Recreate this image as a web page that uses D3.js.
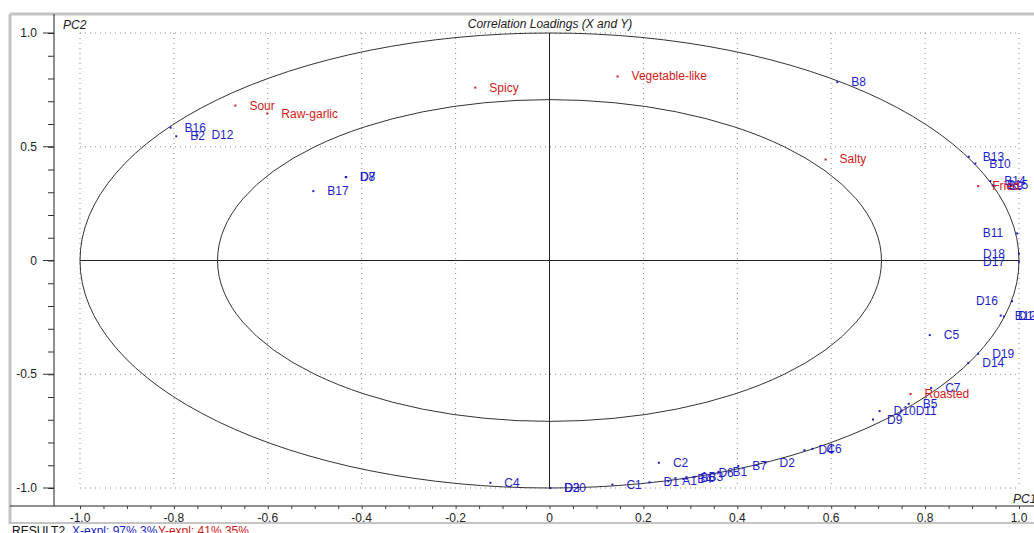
<!DOCTYPE html>
<html>
<head>
<meta charset="utf-8">
<script src="https://cdn.jsdelivr.net/npm/d3@7"></script>
<style>
  body { margin: 0; background: #fff; }
  text { font-family: Arial, "Liberation Sans", sans-serif; }
</style>
</head>
<body>
<div id="chart"></div>
<script>
// X variables (blue)
const xNames = ['B16','B2','D12','D8','D7','B17','B8','B13','B10','B14','B15','B9','B11','D18','D17','D16','B12','D15','C5','D19','D14','C7','B5','D11','D10','D9','D4','C6','D2','B7','B1','D6','B3','B6','B4','A1','D1','C2','C1','D20','D3','C4'];
const xPC1 = [-0.807,-0.795,-0.750,-0.434,-0.433,-0.503,0.613,0.893,0.907,0.939,0.944,0.948,0.996,1.000,1.000,0.985,0.961,0.968,0.810,0.913,0.892,0.813,0.765,0.750,0.703,0.689,0.543,0.560,0.460,0.402,0.360,0.330,0.309,0.292,0.285,0.253,0.213,0.233,0.134,0.001,0.002,-0.126];
const xPC2 = [0.584,0.546,0.550,0.366,0.367,0.305,0.784,0.456,0.426,0.349,0.330,0.328,0.119,0.030,-0.005,-0.179,-0.242,-0.246,-0.328,-0.410,-0.450,-0.560,-0.630,-0.660,-0.662,-0.699,-0.834,-0.828,-0.888,-0.903,-0.929,-0.934,-0.951,-0.958,-0.960,-0.970,-0.975,-0.889,-0.985,-1.000,-1.000,-0.977];

// Y variables (red)
const yNames = ['Sour','Raw-garlic','Spicy','Vegetable-like','Salty','Fried','Roasted'];
const yPC1 = [-0.669,-0.601,-0.158,0.145,0.588,0.913,0.769];
const yPC2 = [0.681,0.646,0.760,0.809,0.444,0.327,-0.587];

const xTicks = [-1.0,-0.8,-0.6,-0.4,-0.2,0,0.2,0.4,0.6,0.8,1.0];
const yTicks = [-1.0,-0.5,0,0.5,1.0];

const width = 1034, height = 533;
const blue = '#1f1fc8', red = '#d11a1a';
const fs = 12;

const x = d3.scaleLinear().domain([-1, 1]).range([80, 1019]);
const y = d3.scaleLinear().domain([-1, 1]).range([488, 33]);
const axisX = 54, axisY = 506;
const fmt = d => d === 0 ? '0' : d3.format('.1f')(d).replace('\u2212', '-');

const svg = d3.select('#chart').append('svg')
  .attr('width', width).attr('height', height);

// window frame
svg.append('line').attr('x1', 10).attr('x2', width).attr('y1', 14).attr('y2', 14)
  .attr('stroke', '#c4c4c4').attr('stroke-width', 3);
svg.append('line').attr('x1', 10).attr('x2', 10).attr('y1', 14).attr('y2', 524)
  .attr('stroke', '#c4c4c4').attr('stroke-width', 3);
svg.append('line').attr('x1', 10).attr('x2', width).attr('y1', 523).attr('y2', 523)
  .attr('stroke', '#c4c4c4').attr('stroke-width', 2);

// grid
const grid = svg.append('g').attr('stroke', '#8a8a8a').attr('stroke-dasharray', '1,4');
grid.selectAll('.vg').data(xTicks.filter(d => d !== 0)).join('line')
  .attr('x1', d => x(d)).attr('x2', d => x(d)).attr('y1', y(1)).attr('y2', y(-1));
grid.selectAll('.hg').data(yTicks.filter(d => d !== 0)).join('line')
  .attr('y1', d => y(d)).attr('y2', d => y(d)).attr('x1', x(-1)).attr('x2', x(1));

// zero lines
svg.append('line').attr('x1', x(0)).attr('x2', x(0)).attr('y1', y(1)).attr('y2', y(-1))
  .attr('stroke', '#222');
svg.append('line').attr('x1', x(-1)).attr('x2', x(1)).attr('y1', y(0)).attr('y2', y(0))
  .attr('stroke', '#222');

// correlation ellipses (r = 1 and r = sqrt(0.5))
[1, Math.sqrt(0.5)].forEach(r => {
  svg.append('ellipse')
    .attr('cx', x(0)).attr('cy', y(0))
    .attr('rx', x(r) - x(0)).attr('ry', y(0) - y(r))
    .attr('fill', 'none').attr('stroke', '#333').attr('stroke-width', 1);
});

// axes
const gx = svg.append('g').attr('transform', `translate(0,${axisY})`);
gx.call(d3.axisBottom(x).tickValues(d3.range(-1, 1.0001, 0.05)).tickSize(3).tickFormat(''))
  .call(g => g.select('.domain').remove());
gx.call(g => g.selectAll('.tick line').attr('stroke', '#444'));
gx.append('line').attr('x1', 10).attr('x2', width).attr('stroke', '#222');
gx.selectAll('.lbl').data(xTicks).join('text')
  .attr('x', d => x(d)).attr('y', 16)
  .attr('text-anchor', 'middle').attr('font-size', fs).attr('fill', '#222')
  .text(fmt);

const gy = svg.append('g').attr('transform', `translate(${axisX},0)`);
gy.call(d3.axisLeft(y).tickValues(d3.range(-1, 1.0001, 0.1)).tickSize(6).tickFormat(''))
  .call(g => g.select('.domain').remove())
  .call(g => g.selectAll('.tick line').attr('stroke', '#333'));
gy.selectAll('.maj').data(yTicks).join('line')
  .attr('x1', -11).attr('x2', 0).attr('y1', d => y(d)).attr('y2', d => y(d)).attr('stroke', '#333');
gy.append('line').attr('y1', 14).attr('y2', axisY).attr('stroke', '#222');
gy.selectAll('.lbl').data(yTicks).join('text')
  .attr('x', -17).attr('y', d => y(d) + 4)
  .attr('text-anchor', 'end').attr('font-size', fs).attr('fill', '#222')
  .text(fmt);

// titles
svg.append('text').attr('x', 550).attr('y', 28).attr('text-anchor', 'middle')
  .attr('font-size', fs).attr('font-style', 'italic').attr('fill', '#222')
  .text('Correlation Loadings (X and Y)');
svg.append('text').attr('x', 63).attr('y', 29).attr('font-size', fs)
  .attr('font-style', 'italic').attr('fill', '#222').text('PC2');
svg.append('text').attr('x', 1013).attr('y', 503).attr('font-size', fs)
  .attr('font-style', 'italic').attr('fill', '#222').text('PC1');

// points with labels
function drawPoints(names, p1, p2, color) {
  const data = names.map((n, i) => ({n, a: p1[i], b: p2[i]}));
  const g = svg.append('g');
  g.selectAll('rect').data(data).join('rect')
    .attr('x', d => x(d.a) - 1).attr('y', d => y(d.b) - 1)
    .attr('width', 2).attr('height', 2).attr('fill', color);
  g.selectAll('text').data(data).join('text')
    .attr('x', d => d.a > 0.97 ? x(d.a) - 14 : x(d.a) + 14)
    .attr('y', d => y(d.b) + 4)
    .attr('text-anchor', d => d.a > 0.97 ? 'end' : 'start')
    .attr('font-size', fs).attr('fill', color)
    .text(d => d.n);
}
drawPoints(xNames, xPC1, xPC2, blue);
drawPoints(yNames, yPC1, yPC2, red);

// footer (cut by the window edge, as in the original)
svg.append('text').attr('x', 12).attr('y', 535).attr('font-size', fs)
  .attr('fill', '#111').text('RESULT2');
svg.append('text').attr('x', 72).attr('y', 535).attr('font-size', fs)
  .attr('fill', blue).text('X-expl: 97%,3%');
svg.append('text').attr('x', 158).attr('y', 535).attr('font-size', fs)
  .attr('fill', red).text('Y-expl: 41%,35%');
</script>
</body>
</html>
